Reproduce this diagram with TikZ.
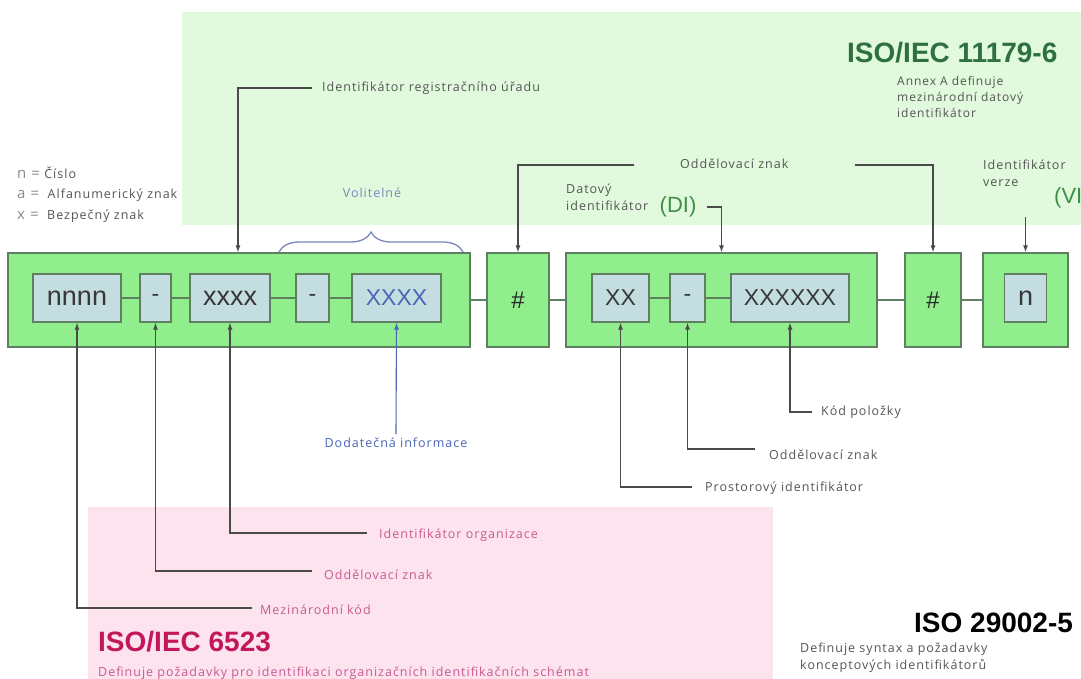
\documentclass[tikz,border=0pt]{standalone}
\usepackage{fontspec}
\setmainfont{Liberation Sans}
\newfontfamily\lbl[LetterSpace=8]{Open Sans}
\usetikzlibrary{decorations.pathreplacing,arrows.meta}
\definecolor{bggreen}{HTML}{E1F9DD}
\definecolor{boxgreen}{HTML}{90EE8C}
\definecolor{boxborder}{HTML}{5E7F60}
\definecolor{inblue}{HTML}{C3DDE0}
\definecolor{pinkbg}{HTML}{FDE3EE}
\definecolor{lblgray}{HTML}{555555}
\definecolor{leggray}{HTML}{8A8A8A}
\definecolor{pinktext}{HTML}{C85A90}
\definecolor{isopink}{HTML}{C2185B}
\definecolor{isogreen}{HTML}{2E7040}
\definecolor{digreen}{HTML}{3F8F48}
\definecolor{bluetext}{HTML}{4A66B8}
\definecolor{bracecol}{HTML}{7888BB}
\definecolor{linecol}{HTML}{4A4A4A}
\begin{document}
\begin{tikzpicture}[x=1pt,y=-1pt,
 outbox/.style={draw=boxborder, fill=boxgreen, line width=1.3pt, minimum height=94pt, inner sep=0pt, font=\fontsize{24}{24}\selectfont, text=black!85},
 inbox/.style={draw=boxborder, fill=inblue, line width=1.2pt, minimum height=48pt, inner sep=0pt, font=\fontsize{23}{23}\selectfont, text=black!78},
 lowbox/.style={inbox, font=\fontsize{27}{27}\selectfont},
 link/.style={draw=boxborder, line width=1.2pt},
 arr/.style={draw=linecol, line width=1.1pt, -{Latex[length=7pt,width=5pt]}},
 lab/.style={font=\lbl\fontsize{12.5}{17}\selectfont, text=lblgray, inner sep=0pt, anchor=west, align=left},
 plab/.style={lab, text=pinktext},
 iso/.style={font=\bfseries\fontsize{28}{28}\selectfont, inner sep=0pt, anchor=west}
]
\useasboundingbox (0,0) rectangle (1081,679);
\fill[white] (0,0) rectangle (1081,679);
\fill[bggreen] (182,12) rectangle (1081,225);
\fill[pinkbg] (88,507) rectangle (773,679);

% legend
\node[lab] (lg1) at (17,173) {{\fontsize{15}{15}\selectfont\color{leggray} n =}\ Číslo};
\node[lab] (lg2) at (17,195) {{\fontsize{15}{15}\selectfont\color{leggray} a =}\ \ Alfanumerický znak};
\node[lab] (lg3) at (17,216) {{\fontsize{15}{15}\selectfont\color{leggray} x =}\ \ Bezpečný znak};

% outer boxes
\node[outbox, minimum width=462pt] (B1) at (239,300) {};
\node[outbox, minimum width=62pt] (H1) at (518,300) {\#};
\node[outbox, minimum width=311pt] (B2) at (721.5,300) {};
\node[outbox, minimum width=56pt] (H2) at (933,300) {\#};
\node[outbox, minimum width=85pt] (B3) at (1025.5,300) {};

% inner boxes
\node[lowbox, minimum width=88pt] (nnnn) at (77,298) {nnnn};
\node[inbox, minimum width=31pt] (d1) at (155.5,298) {-};
\node[lowbox, minimum width=80pt] (x1) at (230,298) {xxxx};
\node[inbox, minimum width=33pt] (d2) at (312.5,298) {-};
\node[inbox, minimum width=89pt, text=bluetext] (X2) at (396.5,298) {XXXX};
\node[inbox, minimum width=57pt] (XX) at (620.5,298) {XX};
\node[inbox, minimum width=35pt] (d3) at (687.5,298) {-};
\node[inbox, minimum width=118pt] (X6) at (790,298) {XXXXXX};
\node[lowbox, minimum width=42pt] (nin) at (1025.5,298) {n};

% links
\draw[link] (nnnn) -- (d1);
\draw[link] (d1) -- (x1);
\draw[link] (x1) -- (d2);
\draw[link] (d2) -- (X2);
\draw[link] (B1) -- (H1);
\draw[link] (H1) -- (B2);
\draw[link] (XX) -- (d3);
\draw[link] (d3) -- (X6);
\draw[link] (B2) -- (H2);
\draw[link] (H2) -- (B3);

% brace
\draw[bracecol, line width=1.3pt, decorate, decoration={brace, amplitude=20pt}] (279,252) -- (463,252);
\node[lab, anchor=center, text=bracecol] (vol) at (372,193) {Volitelné};

% top labels
\node[lab] (reg) at (322,88) {Identifikátor registračního úřadu};
\coordinate (cReg) at (238,0);
\draw[arr] ([xshift=-10pt]reg.west) -| (B1.north -| cReg);

\node[lab] (odd) at (680,164) {Oddělovací znak};
\coordinate (oddL) at (634,165);
\coordinate (oddR) at (855,165);
\draw[arr] (oddL) -| (H1.north);
\draw[arr] (oddR) -| (H2.north);

\node[lab] (dat) at (566,197) {Datový\\identifikátor};
\node[font=\fontsize{22}{22}\selectfont, text=digreen, inner sep=0pt] (DI) at (678,207) {(DI)};
\draw[arr] ([xshift=10pt]DI.east) -| (B2.north);

\node[lab] (ver) at (983,173) {Identifikátor\\verze};
\node[font=\fontsize{22}{22}\selectfont, text=digreen, inner sep=0pt, anchor=west] (VI) at (1054,198) {(VI};
\coordinate (cVer) at (1025.5,217);
\draw[arr] (cVer) -- (B3.north);

\node[iso, text=isogreen] (t11179) at (847,53) {ISO/IEC 11179-6};
\node[lab, font=\lbl\fontsize{12}{16}\selectfont] (annex) at (897,97) {Annex A definuje\\mezinárodní datový\\identifikátor};

% bottom labels
\node[plab] (mez) at (260,610) {Mezinárodní kód};
\draw[arr] ([xshift=-8pt,yshift=2pt]mez.west) -| (nnnn.south);
\node[plab] (odd2) at (324,575) {Oddělovací znak};
\draw[arr] ([xshift=-12pt,yshift=4pt]odd2.west) -| (d1.south);
\node[plab] (org) at (379,535) {Identifikátor organizace};
\draw[arr] ([xshift=-12pt,yshift=2pt]org.west) -| (x1.south);

\node[lab, anchor=center, text=bluetext] (dod) at (396,443) {Dodatečná informace};
\draw[bluetext, line width=1.1pt, -{Latex[length=7pt,width=5pt]}] ([yshift=4pt]dod.north) -- (X2.south);

\node[lab] (pro) at (705,488) {Prostorový identifikátor};
\draw[arr] ([xshift=-13pt,yshift=1pt]pro.west) -| (XX.south);
\node[lab] (odd3) at (769,455) {Oddělovací znak};
\draw[arr] ([xshift=-14pt,yshift=6pt]odd3.west) -| (d3.south);
\node[lab] (kod) at (821,412) {Kód položky};
\draw[arr] ([xshift=-9pt]kod.west) -| (X6.south);

\node[iso, text=isopink] (t6523) at (98,642) {ISO/IEC 6523};
\node[plab] (def1) at (98,673) {Definuje požadavky pro identifikaci organizačních identifikačních schémat};

\node[iso, text=black] (t29002) at (914,623) {ISO 29002-5};
\node[lab] (def2) at (800,658) {Definuje syntax a požadavky\\konceptových identifikátorů};
\end{tikzpicture}
\end{document}
